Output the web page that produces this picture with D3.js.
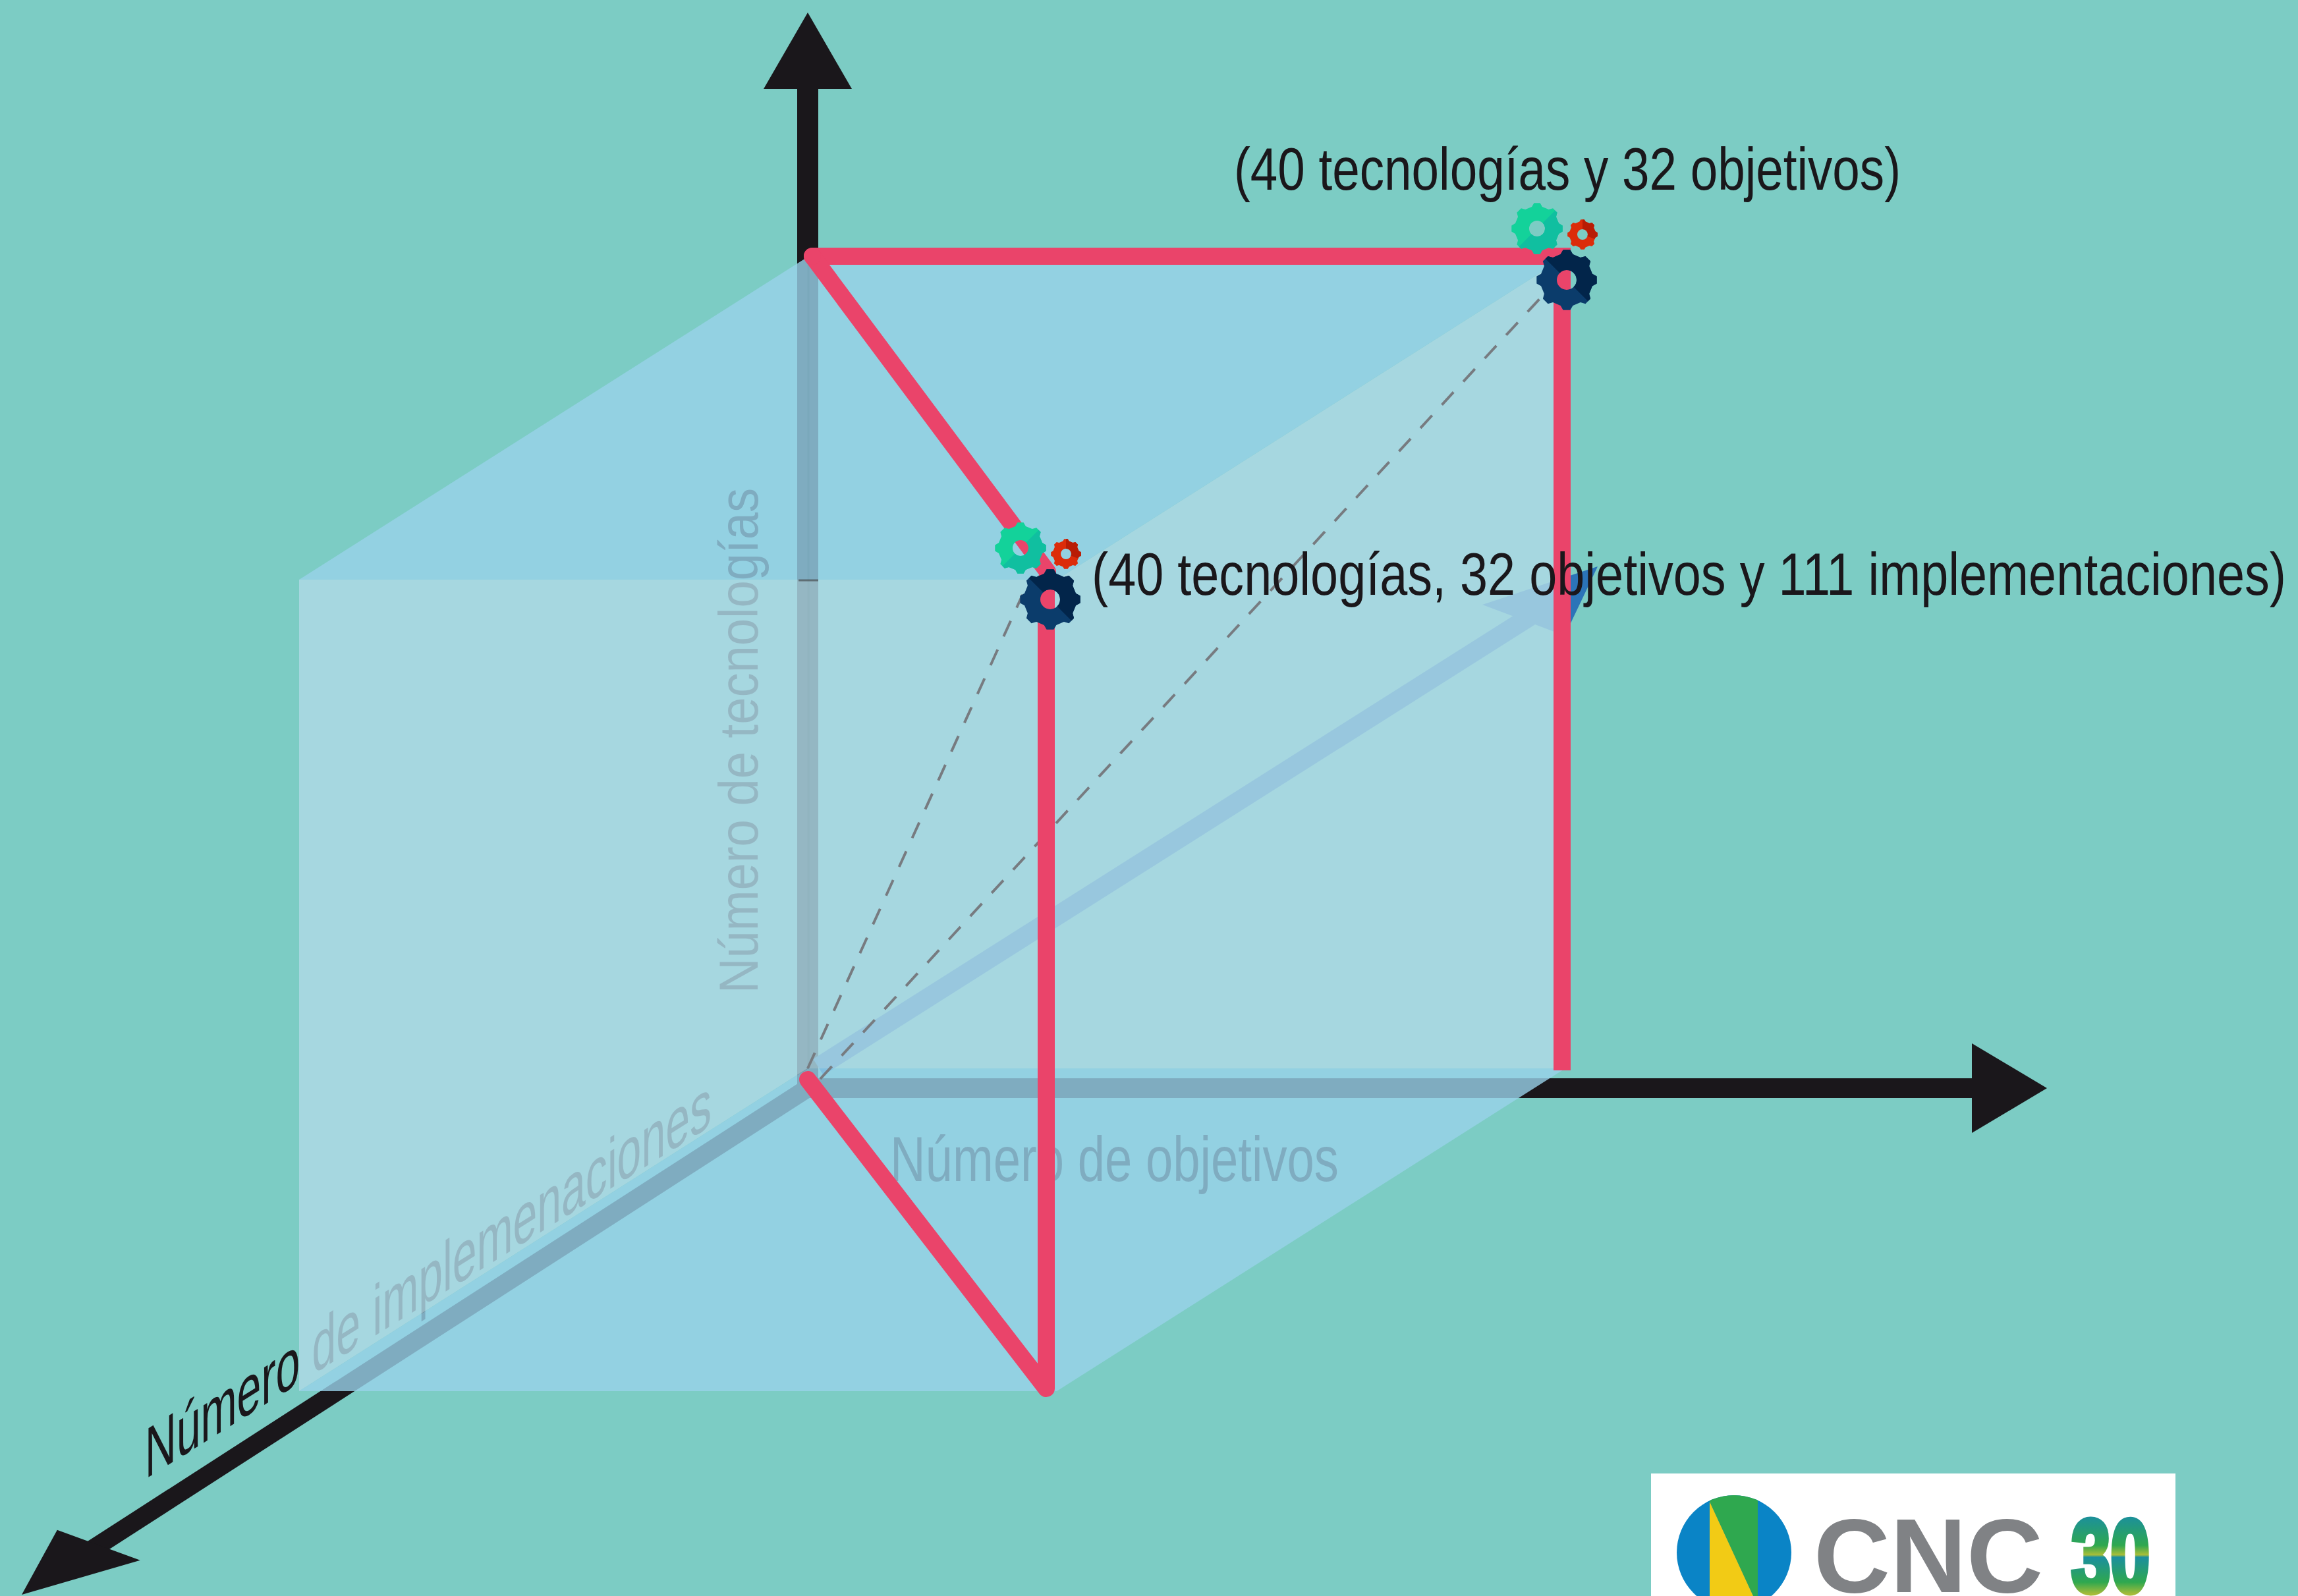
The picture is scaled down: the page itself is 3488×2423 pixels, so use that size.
<!DOCTYPE html>
<html>
<head>
<meta charset="utf-8">
<script src="https://cdn.jsdelivr.net/npm/d3@7"></script>
<style>
  html, body { margin: 0; padding: 0; background: #7cccc4; }
  svg { display: block; }
  text { font-family: "Liberation Sans", sans-serif; }
</style>
</head>
<body>
<svg id="chart" width="3488" height="2423"></svg>
<script>
// values
const objetivos = 32;
const tecnologias = 40;
const implementaciones = 111;
const axisLabels = ["Número de tecnologías", "Número de objetivos", "Número de implemenaciones"];
const pointLabels = ["(40 tecnologías y 32 objetivos)", "(40 tecnologías, 32 objetivos y 111 implementaciones)"];
const logoWord = "CNC";
const logoYears = "30";

const svg = d3.select("#chart");
const defs = svg.append("defs");

// oblique projection, one scale per axis
const xScale = d3.scaleLinear().domain([0, objetivos]).range([0, 1150]);
const yScale = d3.scaleLinear().domain([0, tecnologias]).range([0, -1232]);
const zX = d3.scaleLinear().domain([0, implementaciones]).range([0, -772]);
const zY = d3.scaleLinear().domain([0, implementaciones]).range([0, 490]);
const origin = [1226, 1622];

function pt(x, y, z, dx = 0, dy = 0) {
  return [origin[0] + xScale(x) + zX(z) + dx, origin[1] + yScale(y) + zY(z) + dy];
}

const X = objetivos, Y = tecnologias, Z = implementaciones;
const line = d3.line();

svg.append("rect").attr("width", 3488).attr("height", 2423).attr("fill", "#7cccc4");

// everything below the cube faces: axes, blue arrow and axis titles
const black = "#1a171b";

// barb is the offset from the middle of the head's back edge to one corner
function arrow(from, to, w, back, barb) {
  const a = Math.atan2(to[1] - from[1], to[0] - from[0]);
  const bx = to[0] - Math.cos(a) * back, by = to[1] - Math.sin(a) * back;
  // shaft runs a little into the head so a slanted head leaves no notch
  const sx = to[0] - Math.cos(a) * back * 0.8, sy = to[1] - Math.sin(a) * back * 0.8;
  svg.append("path")
    .attr("d", line([from, [sx, sy]]))
    .attr("stroke", black).attr("stroke-width", w).attr("fill", "none");
  svg.append("path")
    .attr("d", line([to, [bx - barb[0], by - barb[1]], [bx + barb[0], by + barb[1]]]) + "Z")
    .attr("fill", black);
}

const axisBase = pt(0, 0, 0, 0, 30);
arrow(axisBase, [1226, 19], 32, 116, [67, 0]);
arrow(axisBase, [3107, axisBase[1]], 30, 114, [0, 68]);
arrow(axisBase, [33, 2421], 28, 139, [63, 23]);

// blue arrow along the diagonal
svg.append("path")
  .attr("d", line([pt(0, 0, 0, 16, -2), pt(X, Y, 0, -46, 541)]))
  .attr("stroke", "#2b74b8").attr("stroke-width", 29).attr("fill", "none");
svg.append("path")
  .attr("d", line([pt(X, Y, 0, -126, 528), pt(X, Y, 0, 49, 470), pt(X, Y, 0, -1, 575)]) + "Z")
  .attr("fill", "#2b74b8");

svg.append("text")
  .attr("transform", "translate(1150,1508) rotate(-90)")
  .attr("font-size", 84).attr("fill", black)
  .attr("textLength", 767).attr("lengthAdjust", "spacingAndGlyphs")
  .text(axisLabels[0]);

svg.append("text")
  .attr("x", 1351).attr("y", 1793)
  .attr("font-size", 96).attr("fill", black)
  .attr("textLength", 681).attr("lengthAdjust", "spacingAndGlyphs")
  .text(axisLabels[1]);

svg.append("text")
  .attr("transform", "translate(220,2246) skewY(-32)")
  .attr("font-size", 108).attr("fill", black)
  .attr("textLength", 860).attr("lengthAdjust", "spacingAndGlyphs")
  .text(axisLabels[2]);

// seams of the y axis, they show through the faces
svg.append("rect")
  .attr("x", 1227).attr("y", pt(0, Y, Z)[1]).attr("width", 15)
  .attr("height", origin[1] - pt(0, Y, Z)[1]).attr("fill", "#000").attr("opacity", 0.08);
svg.append("path")
  .attr("d", line([pt(0, Y, 0, 1), pt(0, 0, 0, 1)]))
  .attr("stroke", "#000").attr("stroke-width", 3).attr("fill", "none");

// cube faces
const lightFace = [pt(0, Y, Z), pt(X, Y, Z), pt(X, Y, 0), pt(X, 0, 0), pt(0, 0, 0), pt(0, 0, Z)];
const topFace = [pt(0, Y, 0), pt(X, Y, 0), pt(X, Y, Z), pt(0, Y, Z)];
const floorFace = [pt(0, 0, 0), pt(X, 0, 0), pt(X, 0, Z), pt(0, 0, Z)];

svg.append("path").attr("d", line(lightFace) + "Z").attr("fill", "rgb(175,217,230)").attr("fill-opacity", 0.83);
svg.selectAll(".blue-face").data([topFace, floorFace]).join("path")
  .attr("class", "blue-face")
  .attr("d", d => line(d) + "Z")
  .attr("fill", "rgb(153,210,234)").attr("fill-opacity", 0.8);

// dark tick where the top face crosses the y axis
svg.append("path")
  .attr("d", line([[1212, pt(0, Y, Z)[1] + 1], [1242, pt(0, Y, Z)[1] + 1]]))
  .attr("stroke", "#333").attr("stroke-opacity", 0.55).attr("stroke-width", 3);

// dashed guides from the origin to the two points
const guides = [
  [pt(0, 0, 0), pt(X, Y, Z, -52, 23)],
  [pt(0, 0, 0, 19, 16), pt(X, Y, 0, 3, 18)]
];
svg.selectAll(".guide").data(guides).join("path")
  .attr("class", "guide")
  .attr("d", d => line(d))
  .attr("stroke", "#777b80").attr("stroke-width", 4).attr("stroke-dasharray", "26 22").attr("fill", "none");

// red construction lines
const pink = "#ea446a";
const pinkPaths = [
  [pt(0, Y, 0, 7, -1), pt(X, Y, 0, -5, -1), pt(X, 0, 0, -5, 3)],
  [pt(0, Y, 0, 7, -1), pt(X, Y, Z, -14, -12)],
  [pt(0, 0, 0, 0, 17), pt(X, 0, Z, -16, -4), pt(X, Y, Z, -16, 0)]
];
svg.selectAll(".pink").data(pinkPaths).join("path")
  .attr("class", "pink")
  .attr("d", d => line(d))
  .attr("stroke", pink).attr("stroke-width", 26)
  .attr("stroke-linejoin", (d, i) => i === 0 ? "miter" : "round")
  .attr("stroke-linecap", (d, i) => i === 0 ? "butt" : "round")
  .attr("fill", "none");
svg.append("circle").attr("cx", pt(0, Y, 0, 7)[0]).attr("cy", pt(0, Y, 0, 0, -1)[1]).attr("r", 13).attr("fill", pink);

// gears
function gearPath(r, hole, teeth = 8) {
  const pts = [];
  const step = 2 * Math.PI / teeth;
  for (let i = 0; i < teeth; i++) {
    const a = i * step;
    pts.push([a - step * 0.3, r * 0.87], [a - step * 0.15, r], [a + step * 0.15, r], [a + step * 0.3, r * 0.87]);
  }
  const outer = d3.lineRadial().curve(d3.curveLinearClosed)(pts);
  const inner = d3.path();
  inner.moveTo(hole, 0);
  inner.arc(0, 0, hole, 0, 2 * Math.PI);
  inner.closePath();
  return outer + inner.toString();
}

let clipCount = 0;
function gear(cx, cy, r, hole, main, dark, a0, a1) {
  const id = "gear-clip-" + (clipCount++);
  defs.append("clipPath").attr("id", id).append("path")
    .attr("d", d3.arc()({ innerRadius: 0, outerRadius: r * 1.2, startAngle: a0, endAngle: a1 }));
  const g = svg.append("g").attr("transform", `translate(${cx},${cy})`);
  g.append("path").attr("d", gearPath(r, hole)).attr("fill", main).attr("fill-rule", "evenodd");
  g.append("path").attr("d", gearPath(r, hole)).attr("fill", dark).attr("fill-rule", "evenodd")
    .attr("clip-path", `url(#${id})`);
}

const rad = d3.scaleLinear().domain([0, 360]).range([0, 2 * Math.PI]);
const gearAnchors = [pt(X, Y, 0, 2, 35), pt(X, Y, Z, -10, 30)];
gearAnchors.forEach(([cx, cy]) => {
  gear(cx - 45, cy - 78, 39, 12, "#13d29a", "#10bfa0", rad(45), rad(225));
  gear(cx + 24, cy - 69, 23, 8, "#dc2c0a", "#b81c05", rad(0), rad(110));
  gear(cx, cy, 46, 15, "#0b3c6b", "#02254a", rad(-45), rad(135));
});

// point labels
svg.append("text")
  .attr("x", 1873).attr("y", 288)
  .attr("font-size", 90).attr("fill", black)
  .attr("textLength", 1012).attr("lengthAdjust", "spacingAndGlyphs")
  .text(pointLabels[0]);
svg.append("text")
  .attr("x", 1657).attr("y", 903)
  .attr("font-size", 90).attr("fill", black)
  .attr("textLength", 1813).attr("lengthAdjust", "spacingAndGlyphs")
  .text(pointLabels[1]);

// logo
const logo = svg.append("g");
logo.append("rect").attr("x", 2506).attr("y", 2237).attr("width", 796).attr("height", 186).attr("fill", "#fff");
defs.append("clipPath").attr("id", "logo-clip").append("circle").attr("cx", 2632).attr("cy", 2357).attr("r", 87);
const disc = logo.append("g").attr("clip-path", "url(#logo-clip)");
disc.append("rect").attr("x", 2545).attr("y", 2270).attr("width", 174).attr("height", 174).attr("fill", "#0a84c6");
disc.append("path").attr("d", line([[2595, 2262], [2668, 2262], [2668, 2423], [2661, 2423], [2595, 2280]]) + "Z").attr("fill", "#2fa84f");
disc.append("path").attr("d", line([[2595, 2280], [2661, 2423], [2595, 2423]]) + "Z").attr("fill", "#f2cb15");

logo.append("text")
  .attr("x", 2753).attr("y", 2417)
  .attr("font-family", "'Open Sans', sans-serif").attr("font-weight", 700)
  .attr("font-size", 160).attr("fill", "#808285")
  .attr("textLength", 348).attr("lengthAdjust", "spacingAndGlyphs")
  .text(logoWord);

const grad = defs.append("linearGradient").attr("id", "years")
  .attr("gradientUnits", "userSpaceOnUse").attr("x1", 0).attr("x2", 0).attr("y1", 2301).attr("y2", 2420);
[[0, "#1b8f9e"], [0.38, "#2fa84f"], [0.5, "#a9be38"], [0.53, "#1b8f9e"], [0.85, "#2fa84f"], [1, "#a8bc3a"]]
  .forEach(([o, c]) => grad.append("stop").attr("offset", o).attr("stop-color", c));
logo.append("text")
  .attr("x", 3144).attr("y", 2416)
  .attr("font-family", "'DejaVu Sans', sans-serif").attr("font-weight", 700)
  .attr("font-size", 156).attr("fill", "url(#years)")
  .attr("stroke", "url(#years)").attr("stroke-width", 9)
  .attr("textLength", 119).attr("lengthAdjust", "spacingAndGlyphs")
  .text(logoYears);
</script>
</body>
</html>
